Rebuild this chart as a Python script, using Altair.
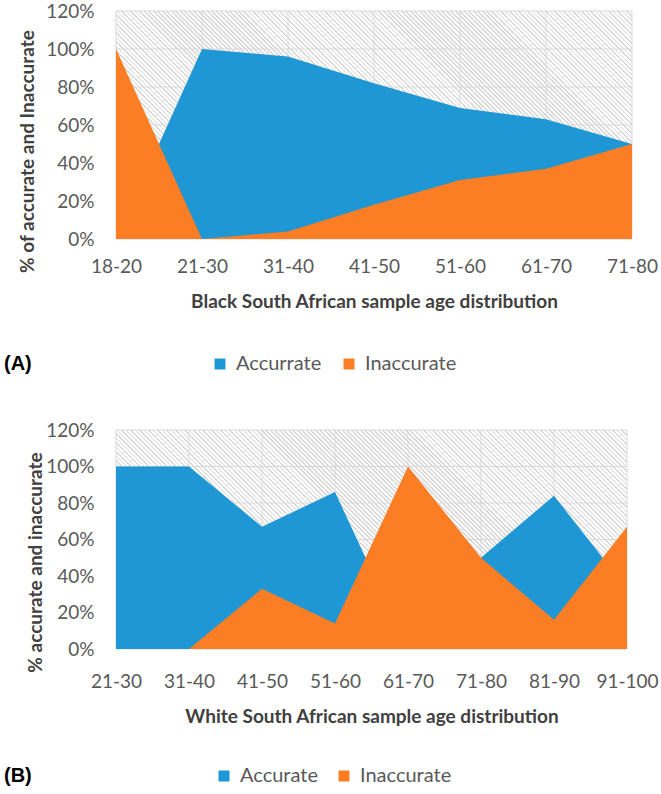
import altair as alt
import pandas as pd

# Panel A: Black South African sample
ages_a = ["18-20", "21-30", "31-40", "41-50", "51-60", "61-70", "71-80"]
accurate_a = [0, 100, 96, 82, 69, 63, 50]
inaccurate_a = [100, 0, 4, 18, 31, 37, 50]
series_a = ["Accurrate", "Inaccurate"]

# Panel B: White South African sample
ages_b = ["21-30", "31-40", "41-50", "51-60", "61-70", "71-80", "81-90", "91-100"]
accurate_b = [100, 100, 67, 86, 0, 50, 84, 33]
inaccurate_b = [0, 0, 33, 14, 100, 50, 16, 67]
series_b = ["Accurate", "Inaccurate"]

y_ticks = [0, 20, 40, 60, 80, 100, 120]

BLUE = "#1f97d4"
ORANGE = "#fb7d24"
GRID = "#d9d9d9"
HATCH = "#d8d8d8"
LABEL = "#595959"
TITLE = "#404040"
FONT = "Lato"


def hatch_fill(w, h, period=4.5, line=0.38):
    """Diagonal '\\' hatching built as a hard-stop linear gradient."""
    s = (w + h) / (w * w + h * h)
    n = int(round((w + h) / period))
    stops = []
    for k in range(n):
        a = round(k / n, 5)
        b = round((k + 1 - line) / n, 5)
        c = round((k + 1) / n, 5)
        stops += [
            {"offset": a, "color": "#ffffff"},
            {"offset": b, "color": "#ffffff"},
            {"offset": b, "color": HATCH},
            {"offset": c, "color": HATCH},
        ]
    return {
        "gradient": "linear",
        "x1": 0, "y1": 1,
        "x2": round(s * w, 6), "y2": round(1 - s * h, 6),
        "stops": stops,
    }


def panel(ages, acc, inacc, names, w, h, x_title, y_title, tag,
          label_pad, title_pad, ytitle_x, ytitle_y, leg_y, leg_gap, col_pad):
    df = pd.DataFrame({
        "age": ages + ages,
        "pct": acc + inacc,
        "series": [names[0]] * len(ages) + [names[1]] * len(ages),
    })
    xscale = alt.Scale(type="point", domain=ages, padding=0)
    yscale = alt.Scale(domain=[y_ticks[0], y_ticks[-1]], nice=False, zero=True)
    xaxis = alt.Axis(
        title=x_title, labelAngle=0, labelFont=FONT, labelFontSize=19,
        labelColor=LABEL, labelPadding=label_pad, ticks=False, grid=False,
        domain=False, titleFont=FONT, titleFontSize=19, titleFontWeight="bold",
        titleColor=TITLE, titlePadding=title_pad,
    )
    yaxis = alt.Axis(
        title=y_title, values=y_ticks, labelExpr="datum.value + '%'",
        labelFont=FONT, labelFontSize=19, labelColor=LABEL, labelPadding=22,
        ticks=False, grid=False, domain=False, titleFont=FONT,
        titleFontSize=19, titleFontWeight="bold", titleColor=TITLE,
        titleX=ytitle_x, titleY=ytitle_y, titleAlign="center",
        titleBaseline="middle", titleAngle=270,
    )

    def xe(field):
        return alt.X(f"{field}:N", scale=xscale, axis=xaxis, sort=ages)

    def ye(field):
        return alt.Y(f"{field}:Q", scale=yscale, axis=yaxis, stack=None)

    frame = pd.DataFrame({"x0": [ages[0]], "x1": [ages[-1]],
                          "y0": [y_ticks[0]], "y1": [y_ticks[-1]]})
    back = alt.Chart(frame).mark_rect(fill=hatch_fill(w, h), strokeWidth=0).encode(
        x=xe("x0"), x2="x1:N", y=ye("y0"), y2="y1:Q"
    )
    hgrid = alt.Chart(pd.DataFrame({"v": y_ticks})).mark_rule(
        color=GRID, strokeWidth=1).encode(y=ye("v"))
    vgrid = alt.Chart(pd.DataFrame({"age": ages})).mark_rule(
        color=GRID, strokeWidth=1).encode(x=xe("age"))

    color = alt.Color(
        "series:N",
        scale=alt.Scale(domain=names, range=[BLUE, ORANGE]),
        legend=alt.Legend(
            orient="none", legendX=4 - 116, legendY=leg_y, direction="horizontal",
            title=tag, titleOrient="left", titleFont="Liberation Sans",
            titleFontSize=20, titleFontWeight="bold", titleColor="black",
            titlePadding=leg_gap, titleBaseline="middle",
            symbolType="square", symbolSize=121, symbolStrokeWidth=0,
            symbolOpacity=1, labelFont=FONT, labelFontSize=20,
            labelColor=LABEL, labelOffset=6, columnPadding=col_pad,
        ),
    )

    def area(name):
        return alt.Chart(df).transform_filter(alt.datum.series == name).mark_area(
            opacity=1, strokeWidth=0, interpolate="linear"
        ).encode(x=xe("age"), y=ye("pct"), color=color)

    return alt.layer(back, hgrid, vgrid, area(names[0]), area(names[1])).properties(
        width=w, height=h
    )


top = panel(ages_a, accurate_a, inaccurate_a, series_a, 516, 228,
            "Black South African sample age distribution",
            "% of accurate and Inaccurate", "(A)",
            label_pad=18, title_pad=16, ytitle_x=-89, ytitle_y=140,
            leg_y=343, leg_gap=178, col_pad=17)

bottom = panel(ages_b, accurate_b, inaccurate_b, series_b, 511, 219,
               "White South African sample age distribution",
               "% accurate and inaccurate", "(B)",
               label_pad=23, title_pad=16, ytitle_x=-81, ytitle_y=132,
               leg_y=336, leg_gap=182, col_pad=16)

chart = alt.vconcat(top, bottom, spacing=47).resolve_scale(
    x="independent", y="independent", color="independent"
).resolve_legend(color="independent").properties(
    padding={"left": 4, "top": 2, "right": 0, "bottom": 0},
    background="white",
).configure_view(stroke=None)

chart.save("out.html", embed_options={"renderer": "svg", "actions": False})
